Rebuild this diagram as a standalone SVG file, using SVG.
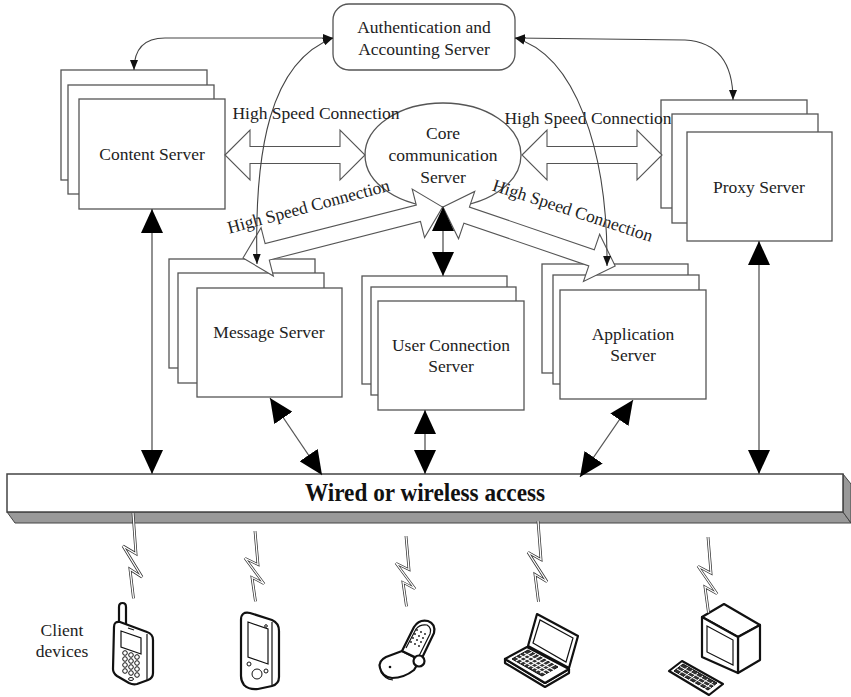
<svg xmlns="http://www.w3.org/2000/svg" width="851" height="697" viewBox="0 0 851 697">
<defs>
<style>
.box{fill:#fff;stroke:#555;stroke-width:1.3}
.lbl{font-family:'Liberation Serif',serif;font-size:17.5px;fill:#222;text-anchor:middle}
.blk{fill:#fff;stroke:#555;stroke-width:1.1}
.thin{fill:none;stroke:#444;stroke-width:1.1}
.link{fill:none;stroke:#555;stroke-width:1.3}
.dev{fill:#fff;stroke:#111;stroke-width:2.2;stroke-linejoin:round}
.devt{fill:none;stroke:#111;stroke-width:1.2}
.key{fill:#fff;stroke:#111;stroke-width:1}
.boltO{fill:none;stroke:#333;stroke-width:2.8;stroke-linejoin:miter}
.boltI{fill:none;stroke:#fff;stroke-width:1.3;stroke-linejoin:miter}
</style>
<marker id="sm" viewBox="0 0 10 8" refX="10" refY="4" markerWidth="10" markerHeight="8" markerUnits="userSpaceOnUse" orient="auto-start-reverse"><path d="M0,0 L10,4 L0,8 z" fill="#111"/></marker>
<marker id="bg" viewBox="0 0 24 22" refX="24" refY="11" markerWidth="24" markerHeight="22" markerUnits="userSpaceOnUse" orient="auto-start-reverse"><path d="M0,0 L24,11 L0,22 z" fill="#000"/></marker>
<polyline id="bolt" points="0,0 3,42 -10,34 9,66 -3,58 0.5,88"/>
</defs>
<rect width="851" height="697" fill="#fff"/>

<!-- server nodes -->
<g id="auth">
<rect class="box" x="333" y="4" width="182" height="66" rx="16"/>
<text class="lbl" x="424" y="33">Authentication and</text>
<text class="lbl" x="424" y="55">Accounting Server</text>
</g>
<g id="content">
<rect class="box" x="61" y="70" width="146" height="110"/>
<rect class="box" x="68" y="85" width="146" height="109"/>
<rect class="box" x="79" y="99" width="146" height="110"/>
<text class="lbl" x="152" y="160">Content Server</text>
</g>
<g id="core">
<ellipse class="box" cx="443" cy="155" rx="78" ry="52"/>
<text class="lbl" x="443" y="139">Core</text>
<text class="lbl" x="443" y="161">communication</text>
<text class="lbl" x="443" y="183">Server</text>
</g>
<g id="proxy">
<rect class="box" x="661" y="100" width="146" height="108"/>
<rect class="box" x="672" y="114" width="146" height="109"/>
<rect class="box" x="687" y="132" width="145" height="109"/>
<text class="lbl" x="759" y="193">Proxy Server</text>
</g>
<g id="message">
<rect class="box" x="169" y="259" width="146" height="109"/>
<rect class="box" x="178" y="273" width="146" height="110"/>
<rect class="box" x="197" y="288" width="145" height="109"/>
<text class="lbl" x="269" y="338">Message Server</text>
</g>
<g id="userconn">
<rect class="box" x="362" y="276" width="145" height="108"/>
<rect class="box" x="371" y="287" width="145" height="108"/>
<rect class="box" x="378" y="301" width="146" height="109"/>
<text class="lbl" x="451" y="351">User Connection</text>
<text class="lbl" x="451" y="372">Server</text>
</g>
<g id="application">
<rect class="box" x="542" y="264" width="146" height="109"/>
<rect class="box" x="553" y="275" width="146" height="109"/>
<rect class="box" x="560" y="290" width="146" height="109"/>
<text class="lbl" x="633" y="340">Application</text>
<text class="lbl" x="633" y="361">Server</text>
</g>
<g id="access">
<polygon points="7,512 843,512 851,523 15,523" fill="#999" stroke="#444" stroke-width="1"/>
<polygon points="843,474 851,484 851,523 843,512" fill="#999" stroke="#444" stroke-width="1"/>
<rect x="7" y="474" width="836" height="38" fill="#fff" stroke="#444" stroke-width="1.5"/>
<text x="425" y="501" font-family="'Liberation Serif',serif" font-weight="bold" font-size="25" text-anchor="middle" textLength="240" lengthAdjust="spacingAndGlyphs" fill="#111">Wired or wireless access</text>
</g>

<!-- client devices -->
<g id="clients">
<text class="lbl" x="62" y="636">Client</text>
<text class="lbl" x="62" y="657">devices</text>
</g>
<g id="phone">
<path class="dev" d="M119,623 V607 Q119,603 122.5,603 Q126,603 126,607 V625"/>
<path class="dev" d="M114,627 Q114,621 120,622 L147,632 Q153,634 153,640 L153,673 Q153,678 148,680 L137,684 Q133,685 129,683 L117,676 Q113,673 113,669 Z"/>
<path class="devt" d="M147,634 V681"/>
<path class="devt" stroke-width="1.5" d="M121,631 L141,638 L141,654 L121,647 Z"/>
<path class="devt" d="M128,628 L134,630"/>
<g class="key">
<circle cx="125" cy="653" r="2.3"/><circle cx="131" cy="655" r="2.3"/><circle cx="137" cy="657" r="2.3"/>
<circle cx="125" cy="659" r="2.3"/><circle cx="131" cy="661" r="2.3"/><circle cx="137" cy="663" r="2.3"/>
<circle cx="125" cy="665" r="2.3"/><circle cx="131" cy="667" r="2.3"/><circle cx="137" cy="669" r="2.3"/>
<circle cx="125" cy="671" r="2.3"/><circle cx="131" cy="673" r="2.3"/><circle cx="137" cy="675" r="2.3"/>
<ellipse cx="131" cy="679" rx="2.5" ry="1.5"/>
</g>
</g>
<g id="pda">
<path class="dev" d="M241,620 Q241,611 250,613 L272,620 Q279,623 279,631 L279,677 Q279,684 272,686 L258,689 Q249,690 244,685 Q241,681 241,676 Z"/>
<path class="devt" d="M272,622 V686"/>
<path class="devt" stroke-width="1.5" d="M248,622 L268,629 L268,664 L248,657 Z"/>
<circle class="key" cx="257" cy="674" r="5" stroke-width="1.4"/>
<circle class="key" cx="249" cy="664" r="2"/>
<circle class="key" cx="266" cy="671" r="2"/>
<circle class="key" cx="266" cy="626" r="1.3"/>
</g>
<g id="flip">
<path class="dev" d="M380,668 Q378,661 386,657 L402,651 L420,660 L414,670 Q404,678 392,678 Q382,677 380,668 Z"/>
<path class="devt" d="M381,671 Q384,679 393,680"/>
<path class="dev" d="M402,651 L414,627 Q419,619 428,621 Q436,624 434,633 L421,660 Z"/>
<path class="devt" d="M406,648 L416,629 Q420,624 427,625 Q432,628 430,634 L419,656"/>
<g fill="#111">
<circle cx="413" cy="638" r="0.9"/><circle cx="417" cy="640" r="0.9"/><circle cx="421" cy="642" r="0.9"/>
<circle cx="415" cy="634" r="0.9"/><circle cx="419" cy="636" r="0.9"/><circle cx="423" cy="638" r="0.9"/>
<circle cx="411" cy="642" r="0.9"/><circle cx="415" cy="644" r="0.9"/><circle cx="419" cy="646" r="0.9"/>
<circle cx="417" cy="630" r="0.9"/><circle cx="421" cy="632" r="0.9"/><circle cx="425" cy="634" r="0.9"/>
<circle cx="390" cy="667" r="1.3"/>
</g>
<circle class="dev" cx="419" cy="661" r="5.5"/>
</g>
<g id="laptop">
<path class="dev" d="M505,659 L505,663 L545,687 L569,673 L569,669 L545,683 Z"/>
<path class="dev" d="M505,659 L527,647 L569,669 L545,683 Z"/>
<path class="dev" d="M528,646 L537,614 L578,636 L569,668 Z"/>
<path class="devt" d="M533,643 L540,620 L573,638 L566,662 Z"/>
<path fill="#333" stroke="#111" stroke-width="1" d="M512,659 L528,650 L558,667 L542,676 Z"/>
<g stroke="#fff" stroke-width="1.1">
<path d="M516,661 L532,652 M520,663 L536,654 M524,665 L540,656 M528,667 L544,658 M532,669 L548,660 M536,671 L552,662 M540,673 L556,664"/>
<path d="M516,657 L546,674 M520,655 L550,672 M524,653 L554,670"/>
</g>
</g>
<g id="desktop">
<path class="dev" d="M702,617 L724,604 L760,625 L738,637 Z"/>
<path class="dev" d="M738,637 L760,625 L760,660 L738,673 Z"/>
<path class="dev" d="M702,617 L738,637 L738,673 L702,657 Z"/>
<path class="devt" stroke-width="1.5" d="M707,626 L733,640 L733,665 L707,652 Z"/>
<path class="dev" d="M669,671 L682,661 L723,684 L709,695 Z"/>
<path fill="#333" stroke="#111" stroke-width="1" d="M674,671 L683,664 L717,683 L708,690 Z"/>
<g stroke="#fff" stroke-width="1">
<path d="M677,669 L711,688 M680,666.5 L714,685.5"/>
<path d="M679,674 L688,667 M684,677 L693,670 M689,680 L698,673 M694,683 L703,676 M699,686 L708,679 M704,689 L713,682"/>
</g>
</g>

<!-- wireless links -->
<g id="wireless">
<use href="#bolt" class="boltO" transform="translate(133,513) scale(1,0.97)"/>
<use href="#bolt" class="boltI" transform="translate(133,513) scale(1,0.97)"/>
<use href="#bolt" class="boltO" transform="translate(255,531) scale(1,0.8)"/>
<use href="#bolt" class="boltI" transform="translate(255,531) scale(1,0.8)"/>
<use href="#bolt" class="boltO" transform="translate(406,536) scale(1,0.8)"/>
<use href="#bolt" class="boltI" transform="translate(406,536) scale(1,0.8)"/>
<use href="#bolt" class="boltO" transform="translate(538,521) scale(1,0.92)"/>
<use href="#bolt" class="boltI" transform="translate(538,521) scale(1,0.92)"/>
<use href="#bolt" class="boltO" transform="translate(708,537) scale(1,0.86)"/>
<use href="#bolt" class="boltI" transform="translate(708,537) scale(1,0.86)"/>
</g>

<!-- connectors -->
<g id="connectors">
<path class="blk" d="M225,155 L250,130 L250,146.5 L340,146.5 L340,130 L365,155 L340,180 L340,163.5 L250,163.5 L250,180 Z"/>
<path class="blk" d="M522,155 L547,130 L547,146.5 L637,146.5 L637,130 L662,155 L637,180 L637,163.5 L547,163.5 L547,180 Z"/>
<path class="blk" transform="translate(243,258) rotate(-14.3)" d="M0,0 L25,-25 L25,-8.5 L181,-8.5 L181,-25 L206,0 L181,25 L181,8.5 L25,8.5 L25,25 Z"/>
<path class="blk" transform="translate(443,207) rotate(18.9)" d="M0,0 L25,-25 L25,-8.5 L157,-8.5 L157,-25 L182,0 L157,25 L157,8.5 L25,8.5 L25,25 Z"/>
<text class="lbl" x="316" y="119">High Speed Connection</text>
<text class="lbl" x="588" y="124">High Speed Connection</text>
<text class="lbl" transform="translate(310,212) rotate(-15)">High Speed Connection</text>
<text class="lbl" transform="translate(571,216) rotate(18)">High Speed Connection</text>

<path class="thin" marker-start="url(#sm)" marker-end="url(#sm)" d="M134,70 Q134,38 165,38 L333,38"/>
<path class="thin" marker-start="url(#sm)" marker-end="url(#sm)" d="M257,264 C254,150 270,62 333,38"/>
<path class="thin" marker-start="url(#sm)" marker-end="url(#sm)" d="M515,38 L685,40 Q733,43 733,100"/>
<path class="thin" marker-start="url(#sm)" marker-end="url(#sm)" d="M515,38 C575,55 608,150 607,266"/>

<line class="link" x1="152" y1="209" x2="152" y2="474" marker-start="url(#bg)" marker-end="url(#bg)"/>
<line class="link" x1="759" y1="241" x2="759" y2="474" marker-start="url(#bg)" marker-end="url(#bg)"/>
<line class="link" x1="443" y1="207" x2="443" y2="276" marker-start="url(#bg)" marker-end="url(#bg)"/>
<line class="link" x1="425" y1="410" x2="425" y2="474" marker-start="url(#bg)" marker-end="url(#bg)"/>
<line class="link" x1="270" y1="398" x2="322" y2="475" marker-start="url(#bg)" marker-end="url(#bg)"/>
<line class="link" x1="633" y1="400" x2="580" y2="477" marker-start="url(#bg)" marker-end="url(#bg)"/>
</g>
</svg>
